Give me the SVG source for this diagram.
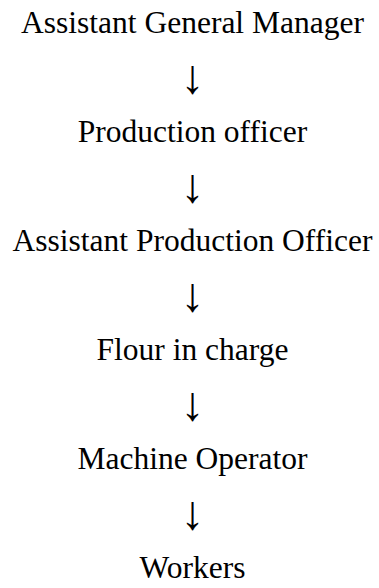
<svg xmlns="http://www.w3.org/2000/svg" width="379" height="588" viewBox="0 0 379 588">
<defs>
<style>
.t{font-family:'Liberation Serif','Times New Roman',serif;font-size:31.5px;fill:#000;text-anchor:middle}
.a{font-family:'Liberation Serif','Times New Roman',serif;font-size:48px;fill:#000;text-anchor:middle}
</style>
</defs>
<rect width="379" height="588" fill="#fff"/>
<g id="connectors">
<text class="a" x="192.5" y="93">↓</text>
<text class="a" x="192.5" y="202">↓</text>
<text class="a" x="192.5" y="311">↓</text>
<text class="a" x="192.5" y="420">↓</text>
<text class="a" x="192.5" y="529">↓</text>
</g>
<g id="n1"><text class="t" x="192.5" y="33">Assistant General Manager</text></g>
<g id="n2"><text class="t" x="192.5" y="142">Production officer</text></g>
<g id="n3"><text class="t" x="192.5" y="251">Assistant Production Officer</text></g>
<g id="n4"><text class="t" x="192.5" y="360">Flour in charge</text></g>
<g id="n5"><text class="t" x="192.5" y="469">Machine Operator</text></g>
<g id="n6"><text class="t" x="192.5" y="578">Workers</text></g>
</svg>
